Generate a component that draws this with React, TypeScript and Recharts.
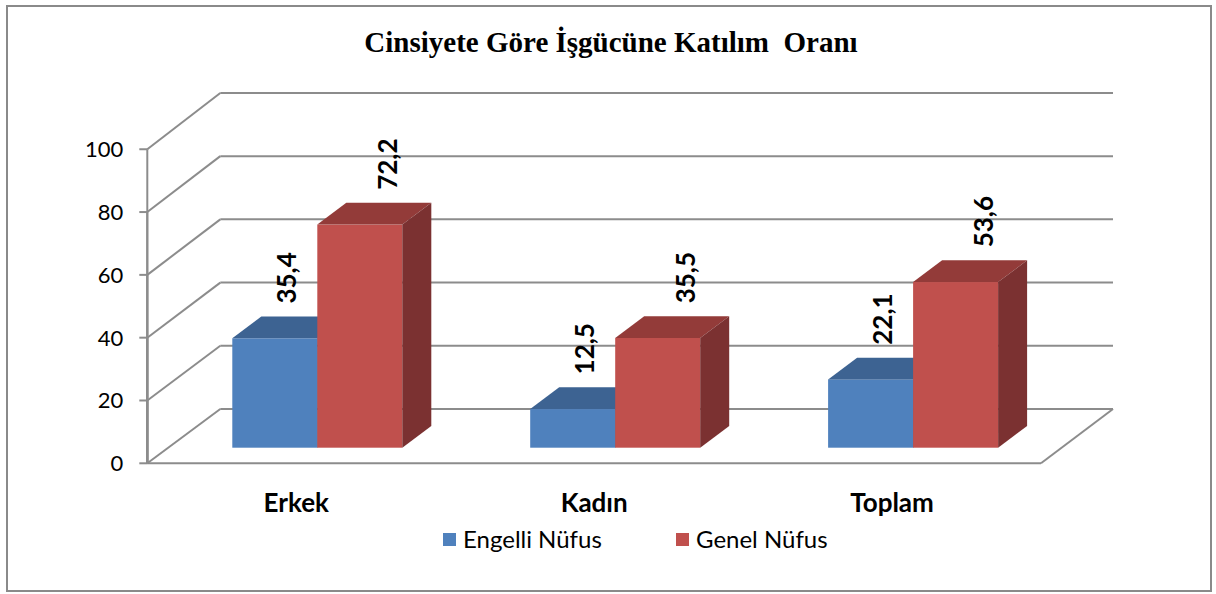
import React from "react";
import { BarChart, Bar, XAxis, YAxis, CartesianGrid, Legend, LabelList } from "recharts";

const categories = ["Erkek", "Kadın", "Toplam"];
const engelliNufus = [35.4, 12.5, 22.1];
const genelNufus = [72.2, 35.5, 53.6];
const yTicks = [0, 20, 40, 60, 80, 100];

const data = categories.map((name, i) => ({
  name,
  engelli: engelliNufus[i],
  genel: genelNufus[i],
}));

const W = 1216;
const H = 594;
// plot area = the plane the bar fronts stand on (axes take 1px each)
const AXIS_W = 1;
const MARGIN = { top: 133.7, right: 154, bottom: 146.3 - AXIS_W, left: 168.3 - AXIS_W };
const PLOT_LEFT = 168.3;
const PLOT_BOTTOM = 447.7;
// 3d projection: floor front edge / back wall, and how much taller they draw than the bar plane
const FRONT = { dx: -21, floorY: 463.3, k: 314 / 309 };
const BACK = { dx: 52, floorY: 409, k: 316 / 309 };
const BAR_DEPTH = { dx: 29, dy: -21.7 };
const GRID = "#8c8c8c";
const FONT = "Lato, 'Noto Sans', sans-serif";

const BLUE = { front: "#4F81BD", top: "#3D6392", side: "#375A85" };
const RED = { front: "#C0504D", top: "#933B39", side: "#7B3131" };

const fmt = (v: number) => String(v).replace(".", ",");
const frontY = (y: number) => FRONT.floorY - (PLOT_BOTTOM - y) * FRONT.k;
const backY = (y: number) => BACK.floorY - (PLOT_BOTTOM - y) * BACK.k;

const make3D = (c: typeof BLUE) => (props: any) => {
  const { x, y, width, height } = props;
  if (!height || height <= 0) return <g />;
  const { dx, dy } = BAR_DEPTH;
  const xr = x + width;
  const yb = y + height;
  return (
    <g>
      <rect x={x} y={y} width={width} height={height} fill={c.front} />
      <polygon points={`${x},${y} ${x + dx},${y + dy} ${xr + dx},${y + dy} ${xr},${y}`} fill={c.top} />
      <polygon points={`${xr},${y} ${xr + dx},${y + dy} ${xr + dx},${yb + dy} ${xr},${yb}`} fill={c.side} />
    </g>
  );
};

const makeLabel = (shift: number) => (props: any) => {
  const { x, y, width, value } = props;
  const bx = Number(x) + Number(width) / 2 + shift;
  const by = Number(y) + BAR_DEPTH.dy - 13;
  return (
    <text
      x={bx}
      y={by}
      transform={`rotate(-90 ${bx} ${by})`}
      textAnchor="start"
      fontFamily={FONT}
      fontWeight={700}
      fontSize={26}
      fill="#000"
    >
      {fmt(value)}
    </text>
  );
};

// one horizontal gridline of the 3d walls (left wall diagonal + back wall line)
const WallLine = (props: any) => {
  const { x, y, width, y1, key } = props;
  // plot top edge is not a tick (domain runs a bit past 100)
  if (Math.abs(y1 - y) < 1) return <g key={key} />;
  const fx = x + FRONT.dx;
  const fy = frontY(y1);
  const bx = x + BACK.dx;
  const by = backY(y1);
  const bxr = x + width + BACK.dx - 1;
  const isFloor = Math.abs(y1 - PLOT_BOTTOM) < 1;
  const s = { stroke: GRID, strokeWidth: 2, fill: "none" };
  return (
    <g key={key}>
      <line x1={fx} y1={fy} x2={bx} y2={by} {...s} />
      <line x1={bx} y1={by} x2={bxr} y2={by} {...s} />
      {isFloor && (
        <>
          <line x1={fx} y1={fy} x2={x + width + FRONT.dx} y2={fy} {...s} />
          <line x1={x + width + FRONT.dx} y1={fy} x2={bxr} y2={by} {...s} />
        </>
      )}
    </g>
  );
};

const WallTick = (props: any) => {
  const { y, payload } = props;
  const fx = PLOT_LEFT + FRONT.dx;
  const fy = frontY(y);
  return (
    <g>
      <line x1={fx} y1={fy} x2={fx} y2={FRONT.floorY} stroke={GRID} strokeWidth={2} />
      <line x1={fx - 8} y1={fy} x2={fx} y2={fy} stroke={GRID} strokeWidth={2} />
      <text x={fx - 24} y={fy} dy="0.36em" textAnchor="end" fontFamily={FONT} fontSize={22} fill="#000">
        {payload.value}
      </text>
    </g>
  );
};

const CategoryTick = (props: any) => {
  const { x, payload } = props;
  return (
    <text
      x={x + FRONT.dx}
      y={PLOT_BOTTOM + 64.5}
      textAnchor="middle"
      fontFamily={FONT}
      fontWeight={700}
      fontSize={26}
      fill="#000"
    >
      {payload.value}
    </text>
  );
};

const LegendContent = (props: any) => {
  const { payload = [] } = props;
  return (
    <div style={{ display: "flex", fontFamily: FONT, fontSize: 24, lineHeight: "26px", color: "#000" }}>
      {payload.map((p: any) => (
        <div key={p.value} style={{ display: "flex", alignItems: "center", width: 233, whiteSpace: "nowrap" }}>
          <span style={{ display: "inline-block", width: 13, height: 13, background: p.color, marginRight: 7 }} />
          <span>{p.value}</span>
        </div>
      ))}
    </div>
  );
};

export default function App() {
  return (
    <div style={{ position: "absolute", left: 0, top: 0, width: W, height: H, background: "#fff" }}>
      <div
        style={{
          position: "absolute",
          left: 6,
          top: 5,
          width: 1206,
          height: 587,
          border: "2px solid #8a8a8a",
          boxSizing: "border-box",
        }}
      />
      <div
        style={{
          position: "absolute",
          left: 0,
          top: 28,
          width: 1222,
          textAlign: "center",
          fontFamily: "'Liberation Serif', 'Times New Roman', serif",
          fontWeight: 700,
          fontSize: 29,
          lineHeight: "29px",
          whiteSpace: "pre",
          color: "#000",
        }}
      >
        {"Cinsiyete Göre İşgücüne Katılım  Oranı"}
      </div>
      <BarChart
        width={W}
        height={H}
        data={data}
        margin={MARGIN}
        barCategoryGap={64}
        barGap={0}
        style={{ position: "absolute", left: 0, top: 0 }}
      >
        <CartesianGrid vertical={false} horizontal={WallLine} />
        <XAxis dataKey="name" height={AXIS_W} axisLine={false} tickLine={false} interval={0} tick={CategoryTick} />
        <YAxis
          domain={[0, 101.6]}
          ticks={yTicks}
          interval={0}
          width={AXIS_W}
          axisLine={false}
          tickLine={false}
          tick={WallTick}
        />
        <Legend
          layout="horizontal"
          verticalAlign="middle"
          align="center"
          content={LegendContent}
          wrapperStyle={{ left: 443, top: 526, width: 500 }}
        />
        <Bar dataKey="engelli" name="Engelli Nüfus" fill={BLUE.front} shape={make3D(BLUE)} isAnimationActive={false}>
          <LabelList dataKey="engelli" content={makeLabel(21)} />
        </Bar>
        <Bar dataKey="genel" name="Genel Nüfus" fill={RED.front} shape={make3D(RED)} isAnimationActive={false}>
          <LabelList dataKey="genel" content={makeLabel(37)} />
        </Bar>
      </BarChart>
    </div>
  );
}
